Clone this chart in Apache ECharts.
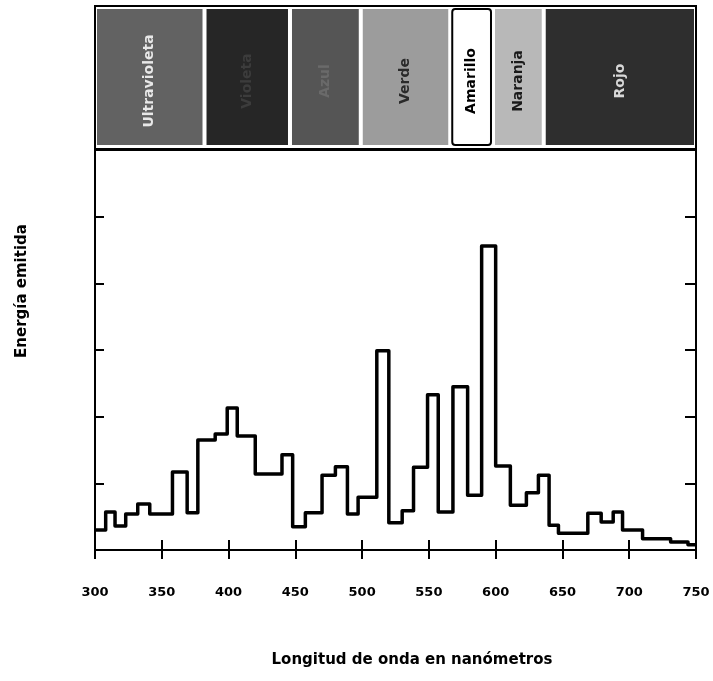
<!DOCTYPE html>
<html><head><meta charset="utf-8">
<script src="https://cdn.jsdelivr.net/npm/echarts@6/dist/echarts.min.js"></script>
<style>html,body{margin:0;padding:0;background:#fff}#c{width:713px;height:681px}</style>
</head><body><div id="c"></div>
<script>
// ---- data ----
const xTickLabels = ['300','350','400','450','500','550','600','650','700','750'];
const stepEdges = [300,308,315,323,332,341,358,369,377,390,399,406.5,420,440,448,457.5,470,480,489,497,511,520,530,538.5,549,557,568,579,589.5,600,611,623,632,640,647,669,679,688,695,710,731,744,750];
const stepLevels = [0.30,0.57,0.36,0.54,0.69,0.54,1.17,0.56,1.65,1.74,2.13,1.71,1.14,1.43,0.35,0.56,1.12,1.25,0.54,0.79,2.99,0.41,0.59,1.24,2.33,0.57,2.45,0.82,4.56,1.26,0.67,0.86,1.12,0.37,0.25,0.55,0.42,0.57,0.30,0.17,0.12,0.08];
const bandNames = ['Ultravioleta','Violeta','Azul','Verde','Amarillo','Naranja','Rojo'];
const bandStart = [300,382,446,499,566,598,636];
const bandEnd   = [382,446,499,566,598,636,750];

// ---- styles ----
const bandFill = ['#626262','#262626','#555555','#9c9c9c','#ffffff','#b8b8b8','#2e2e2e'];
const bandText = ['#e8e8e8','#3c3c3c','#6a6a6a','#2a2a2a','#000000','#1a1a1a','#d8d8d8'];
const FONT = '"DejaVu Sans",sans-serif';

// step polyline built from the arrays
const stepPts = [];
for (let i = 0; i < stepLevels.length; i++) {
  stepPts.push([stepEdges[i], stepLevels[i]]);
  stepPts.push([stepEdges[i + 1], stepLevels[i]]);
}
const xTickVals = xTickLabels.map(Number);

const chart = echarts.init(document.getElementById('c'));
chart.setOption({
  animation: false,
  backgroundColor: '#fff',
  grid: [
    {left: 95, right: 17, top: 6, height: 143, show: true, borderColor: '#000', borderWidth: 2, backgroundColor: '#fff'},
    {left: 95, right: 17, top: 150, height: 400, show: true, borderColor: '#000', borderWidth: 2}
  ],
  xAxis: [
    {gridIndex: 0, type: 'value', min: 300, max: 750, interval: 50, axisLine: {show: false}, axisTick: {show: false}, axisLabel: {show: false}, splitLine: {show: false}},
    {gridIndex: 1, type: 'value', min: 300, max: 750, interval: 50, position: 'bottom',
      axisLine: {show: false}, axisTick: {show: true, inside: true, length: 10, lineStyle: {color: '#000', width: 2}},
      axisLabel: {show: true, margin: 36, color: '#000', fontFamily: FONT, fontWeight: 'bold', fontSize: 13,
        formatter: v => xTickLabels[xTickVals.indexOf(v)] || ''}, splitLine: {show: false}},
    {gridIndex: 1, type: 'value', min: 300, max: 750, interval: 50, position: 'top',
      axisLine: {show: false}, axisTick: {show: true, inside: true, length: 9, lineStyle: {color: '#000', width: 2}},
      axisLabel: {show: false}, splitLine: {show: false}}
  ],
  yAxis: [
    {gridIndex: 0, type: 'value', min: 0, max: 1, axisLine: {show: false}, axisTick: {show: false}, axisLabel: {show: false}, splitLine: {show: false}},
    {gridIndex: 1, type: 'value', min: 0, max: 6, interval: 1, position: 'left',
      axisLine: {show: false}, axisTick: {show: true, inside: true, length: 9, lineStyle: {color: '#000', width: 2}},
      axisLabel: {show: false}, splitLine: {show: false}},
    {gridIndex: 1, type: 'value', min: 0, max: 6, interval: 1, position: 'right',
      axisLine: {show: false}, axisTick: {show: true, inside: true, length: 11, lineStyle: {color: '#000', width: 2}},
      axisLabel: {show: false}, splitLine: {show: false}}
  ],
  series: [
    {
      type: 'custom', xAxisIndex: 0, yAxisIndex: 0,
      data: bandStart.map((s, i) => [s, bandEnd[i], i]),
      renderItem: function (params, api) {
        const i = api.value(2);
        const p0 = api.coord([api.value(0), 1]);
        const p1 = api.coord([api.value(1), 0]);
        const g = 2;
        const x0 = p0[0] + g, x1 = p1[0] - g;
        const y0 = p0[1] + g + 1, y1 = p1[1] - g - 2;
        return {type: 'group', children: [
          {type: 'rect', shape: {x: x0, y: y0, width: x1 - x0, height: y1 - y0, r: i === 4 ? 3 : 0},
            style: {fill: bandFill[i], stroke: i === 4 ? '#000' : null, lineWidth: 2}},
          {type: 'text', x: (x0 + x1) / 2, y: (y0 + y1) / 2 + 4, rotation: Math.PI / 2,
            style: {text: bandNames[i], fill: bandText[i], font: 'bold 14px ' + FONT, align: 'center', verticalAlign: 'middle'}}
        ]};
      }
    },
    {
      type: 'line', xAxisIndex: 1, yAxisIndex: 1,
      data: stepPts, showSymbol: false, symbol: 'none',
      lineStyle: {color: '#000', width: 3.5, join: 'round'}
    }
  ],
  graphic: [
    {type: 'text', x: 22, y: 291, rotation: Math.PI / 2,
      style: {text: 'Energía emitida', fill: '#000', font: 'bold 15px ' + FONT, align: 'center', verticalAlign: 'middle'}},
    {type: 'text', x: 412, y: 660,
      style: {text: 'Longitud de onda en nanómetros', fill: '#000', font: 'bold 15px ' + FONT, align: 'center', verticalAlign: 'middle'}}
  ]
});
</script>
</body></html>
